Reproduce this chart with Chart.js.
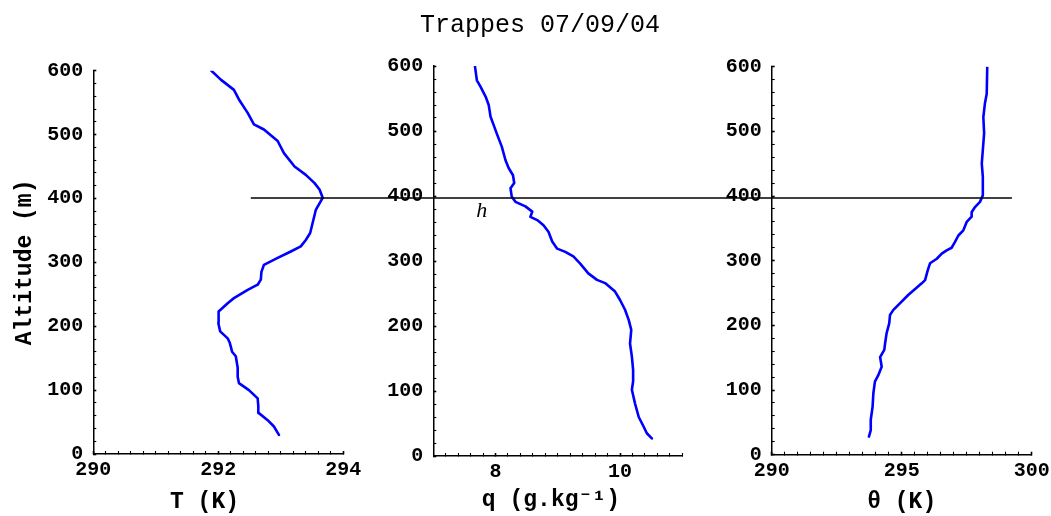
<!DOCTYPE html>
<html><head><meta charset="utf-8">
<script src="https://cdn.jsdelivr.net/npm/chart.js@4.4.1/dist/chart.umd.min.js"></script>
<style>
html,body{margin:0;padding:0;background:#fff;}
#wrap{position:relative;width:1051px;height:516px;overflow:hidden;background:#fff;}
#wrap canvas{position:absolute;left:0;top:0;}
</style></head><body>
<div id="wrap">
<canvas id="cT" width="1051" height="516"></canvas>
<canvas id="cQ" width="1051" height="516"></canvas>
<canvas id="cTh" width="1051" height="516"></canvas>
</div>
<script>
// ---------- texts ----------
const chartTitle = 'Trappes 07/09/04';
const altTitle = 'Altitude (m)';
const tTitle = 'T (K)  ';
const qTitle = 'q (g.kg\u207B\u00B9) ';
const thTitle = '\u03B8 (K)';
const hText = 'h';

// ---------- temperature profile ----------
const tAlt = [30,43,53,64,75,87,100,111,121,135,153,160,168,175,181,192,205,215,223,236,244,257,265,273,285,296,307,317,325,335,346,362,382,401,414,424,437,450,471,490,508,516,534,555,570,586,600];
const tVal = [292.97,292.89,292.79,292.65,292.64,292.63,292.49,292.33,292.31,292.31,292.28,292.22,292.20,292.18,292.15,292.03,292.00,292.00,292.01,292.15,292.25,292.47,292.63,292.68,292.69,292.73,292.95,293.16,293.32,293.40,293.47,293.51,293.56,293.67,293.62,293.54,293.40,293.22,293.05,292.95,292.73,292.57,292.47,292.33,292.25,292.04,291.89];

// ---------- specific humidity profile ----------
const qAlt = [27,35,45,60,81,102,115,132,153,173,194,209,225,240,253,266,271,281,296,307,314,319,330,345,355,363,368,376,384,391,399,412,420,432,443,455,476,496,509,522,540,553,568,578,599];
const qVal = [10.51,10.43,10.38,10.30,10.24,10.19,10.21,10.21,10.19,10.16,10.18,10.14,10.08,10.00,9.92,9.76,9.63,9.49,9.36,9.25,9.12,8.99,8.91,8.85,8.77,8.67,8.56,8.59,8.48,8.32,8.26,8.24,8.30,8.28,8.21,8.16,8.10,8.02,7.97,7.92,7.89,7.84,7.76,7.70,7.67];

// ---------- potential temperature profile ----------
const thAlt = [28,38,54,74,95,113,123,136,151,162,172,188,203,216,224,234,247,254,265,270,285,296,303,311,316,320,329,339,347,360,368,375,383,391,401,430,450,471,497,522,543,558,599];
const thVal = [293.74,293.81,293.81,293.88,293.91,293.97,294.10,294.23,294.17,294.33,294.36,294.42,294.52,294.55,294.68,294.93,295.25,295.45,295.77,295.90,296.00,296.09,296.35,296.54,296.73,296.92,297.05,297.18,297.37,297.50,297.69,297.69,297.82,298.01,298.12,298.12,298.08,298.12,298.17,298.14,298.20,298.27,298.29];

// ---------- boundary-layer height line ----------
const hAlt = 397;          // m
const hStartT = 292.52;    // K, where the line starts in the T panel
const hEndTheta = 299.24;  // K, where the line ends in the theta panel
const hLabelQ = 7.78, hLabelAlt = 376;

// ---------- ticks ----------
const altRange = [0, 600], altStep = 20, altTickLabels = [0,100,200,300,400,500,600];
const tRange = [290, 294], tStep = 0.2, tTickLabels = [290,292,294];
const qRange = [7, 11], qStep = 0.2, qTickLabels = [8,10];
const thRange = [290, 300], thStep = 0.5, thTickLabels = [290,295,300];

const MONO = "'Liberation Mono','DejaVu Sans Mono',monospace";
const BLUE = '#0000FF';

function makeTicks(min, max, step) {
  const out = [];
  const n = Math.round((max - min) / step);
  for (let i = 0; i <= n; i++) out.push({value: Math.round((min + i * step) * 1000) / 1000});
  return out;
}
function isLabel(labels, v) { return labels.some(l => Math.abs(l - v) < 1e-6); }

function axis(o) {
  return {
    type: 'linear', position: o.position, min: o.range[0], max: o.range[1],
    afterBuildTicks: s => { s.ticks = makeTicks(o.range[0], o.range[1], o.step); },
    afterFit: s => {
      if (o.position === 'left') { s.width = o.size; s.paddingTop = 0; s.paddingBottom = 0; }
      else { s.height = o.size; s.paddingLeft = 0; s.paddingRight = 0; }
    },
    ticks: {
      autoSkip: false, maxRotation: 0, minRotation: 0, padding: o.labelPad, color: '#000',
      font: {family: MONO, size: 20, weight: 'bold'},
      callback: v => isLabel(o.labels, v) ? String(Math.round(v * 100) / 100) : ''
    },
    grid: {
      display: true, drawOnChartArea: false, drawTicks: true, tickLength: -3,
      tickColor: '#000',
      tickWidth: c => (c.tick && isLabel(o.labels, c.tick.value)) ? 1.6 : 1.1
    },
    border: {display: true, color: '#000', width: 1.5},
    title: o.title ? {
      display: true, text: o.title, color: '#000',
      font: {family: MONO, size: 23, weight: 'bold'},
      padding: {top: 0, bottom: o.titlePad || 0}
    } : {display: false}
  };
}

function profile(xs, ys) { return ys.map((y, i) => ({x: xs[i], y})); }

function baseOptions(padding, xAxis, yAxis, extraPlugins) {
  return {
    responsive: false, animation: false, devicePixelRatio: 1,
    layout: {padding},
    plugins: Object.assign({legend: {display: false}, tooltip: {enabled: false}, title: {display: false}}, extraPlugins || {}),
    scales: {x: xAxis, y: yAxis},
    elements: {point: {radius: 0}, line: {tension: 0}}
  };
}

function ds(xs, ys) {
  return {data: profile(xs, ys), showLine: true, borderColor: BLUE, backgroundColor: BLUE,
          borderWidth: 2.6, pointRadius: 0, fill: false, borderJoinStyle: 'round', borderCapStyle: 'round'};
}

const charts = {};

// Left: T
charts.T = new Chart(document.getElementById('cT'), {
  type: 'scatter',
  data: {datasets: [ds(tVal, tAlt)]},
  options: baseOptions({left: 11, right: 1051 - 343.3, top: 70.7, bottom: 0},
    axis({position: 'bottom', range: tRange, step: tStep, labels: tTickLabels, size: 62, labelPad: 7, title: tTitle, titlePad: 0}),
    axis({position: 'left', range: altRange, step: altStep, labels: altTickLabels, size: 82.3, labelPad: 13, title: altTitle}))
});

// Middle: q
const hLabelPlugin = {
  id: 'hLabel',
  afterDatasetsDraw(chart) {
    const ctx = chart.ctx;
    ctx.save();
    ctx.fillStyle = '#000';
    ctx.font = "italic 22px 'Liberation Serif','DejaVu Serif',serif";
    ctx.textAlign = 'center'; ctx.textBaseline = 'middle';
    ctx.fillText(hText, chart.scales.x.getPixelForValue(hLabelQ), chart.scales.y.getPixelForValue(hLabelAlt));
    ctx.restore();
  }
};
charts.Q = new Chart(document.getElementById('cQ'), {
  type: 'scatter',
  data: {datasets: [ds(qVal, qAlt)]},
  options: baseOptions({left: 365, right: 1051 - 682.3, top: 66, bottom: 0},
    axis({position: 'bottom', range: qRange, step: qStep, labels: qTickLabels, size: 60, labelPad: 7, title: qTitle, titlePad: 2}),
    axis({position: 'left', range: altRange, step: altStep, labels: altTickLabels, size: 433.3 - 365, labelPad: 13})),
  plugins: [hLabelPlugin]
});

// Right: theta (carries the main title, draws the h line over everything)
const hLinePlugin = {
  id: 'hLine',
  afterDraw(chart) {
    const ctx = chart.ctx;
    const x1 = charts.T.scales.x.getPixelForValue(hStartT);
    const x2 = chart.scales.x.getPixelForValue(hEndTheta);
    const y = charts.Q.scales.y.getPixelForValue(hAlt);
    ctx.save();
    ctx.strokeStyle = '#000'; ctx.lineWidth = 1.4;
    ctx.beginPath(); ctx.moveTo(x1, y); ctx.lineTo(x2, y); ctx.stroke();
    ctx.restore();
  }
};
charts.Th = new Chart(document.getElementById('cTh'), {
  type: 'scatter',
  data: {datasets: [ds(thVal, thAlt)]},
  options: baseOptions({left: 48.3, right: 1051 - 1031.7, top: 0, bottom: 0},
    axis({position: 'bottom', range: thRange, step: thStep, labels: thTickLabels, size: 61.3, labelPad: 7, title: thTitle, titlePad: 0}),
    axis({position: 'left', range: altRange, step: altStep, labels: altTickLabels, size: 771.7 - 48.3, labelPad: 13}),
    {title: {display: true, text: chartTitle, color: '#000', font: {family: MONO, size: 25, weight: 'normal'},
             padding: {top: 10, bottom: 66.7 - 10 - 30}}}),
  plugins: [hLinePlugin]
});
</script>
</body></html>
